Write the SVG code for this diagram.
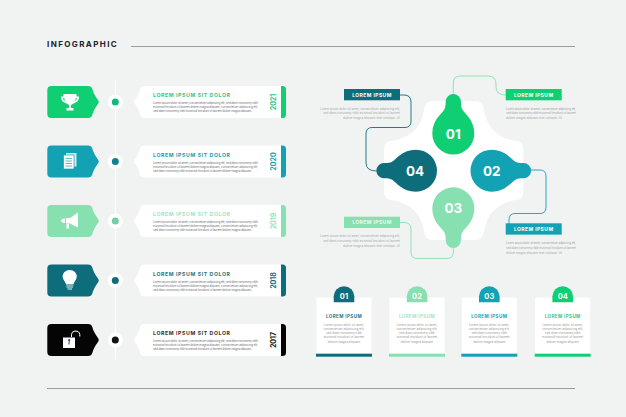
<svg xmlns="http://www.w3.org/2000/svg" width="626" height="417" viewBox="0 0 626 417">
<style>
text{font-family:"Inter","Liberation Sans",sans-serif}
.t{font-size:5.2px;font-weight:700;letter-spacing:.6px}
.b{font-size:3.1px;fill:#777}
.g{font-size:3.1px;fill:#a5a9a9}
.y{font-size:7px;font-weight:700;text-anchor:middle}
.lab{font-size:5px;font-weight:700;letter-spacing:.42px;fill:#fff;text-anchor:middle}
.num{font-size:13.500px;font-weight:700;fill:#fff;text-anchor:middle}
.n2{font-size:7.500px;font-weight:700;fill:#fff;text-anchor:middle}
.ct{font-size:4.500px;font-weight:700;letter-spacing:.42px;text-anchor:middle}
.c{font-size:3.1px;fill:#999;text-anchor:middle}
.r{text-anchor:end}
.cn{fill:none;stroke-width:.9}
.ic{fill:#fff}
</style>
<defs>
<path id="tag" d="M51.500,86H88Q91.500,86 92.300,89Q93.500,94 98.300,100.500Q99.300,102 98.300,103.500Q93.500,110 92.300,115Q91.500,118 88,118H51.500Q47.300,118 47.300,114V90Q47.300,86 51.500,86Z"/>
<path id="card" d="M145,86H281V118H145Q141,118 140,115Q139,109 134.500,103.500Q133.500,102 134.500,100.500Q139,95 140,89Q141,86 145,86Z"/>
<path id="bar" d="M281,86H282.500Q286,86 286,89.500V114.500Q286,118 282.500,118H281Z"/>
<path id="bulb" d="M-7.600,-32A7.600,7.600 0 0 1 7.600,-32C7.600,-28 8,-26 9,-24C11,-20 21,-14 21,0A21,21 0 0 1 -21,0C-21,-14 -11,-20 -9,-24C-8,-26 -7.600,-28 -7.600,-32Z"/>
<path id="tab" d="M0,16V10A10.300,10 0 0 1 20.600,10V16Z"/>
</defs>
<rect width="626" height="417" fill="#f1f3f3"/>
<text x="47" y="47" font-weight="700" letter-spacing="1.400" fill="#222" style="font-size:8px">INFOGRAPHIC</text>
<path d="M131,46.500H575M47,388.500H575" stroke="#9a9d9d" stroke-width="1" fill="none"/>
<path d="M115.300,80V360" stroke="#fff" stroke-width="1"/>

<g id="row-2021">
<use href="#tag" fill="#0fcf72"/>
<path class="ic" d="M63.500,94H76.500V96.500H79V98Q78.500,102 73.500,103.500L71,105V108H73.500V110.500H66.500V108H69V105L66.500,103.500Q61.500,102 61,98V96.500H63.500ZM63,98Q63.500,100.500 65,101L64.200,98ZM77,98L75.800,98L75,101Q76.500,100.500 77,98Z" fill-rule="evenodd"/>
<circle cx="115.300" cy="102" r="7.500" fill="#fff"/><circle cx="115.300" cy="102" r="3.500" fill="#10b981"/>
<use href="#card" fill="#fff"/><use href="#bar" fill="#0fcf72"/>
<text class="t" x="153" y="97" fill="#2fc78a">LOREM IPSUM SIT DOLOR</text>
<text class="b" x="153" y="104.300" textLength="105">Lorem ipsum dolor sit amet, consectetuer adipiscing elit, sed diam nonummy nibh</text>
<text class="b" x="153" y="108.300" textLength="105">euismod tincidunt ut laoreet dolore magna aliquam, consectetuer adipiscing elit,</text>
<text class="b" x="153" y="112.300" textLength="99">sed diam nonummy nibh euismod tincidunt ut laoreet dolore magna aliquam.</text>
<text class="y" transform="translate(275.500,102) rotate(-90)" fill="#1dc987">2021</text>
</g>

<g id="row-2020" transform="translate(0,59.500)">
<use href="#tag" fill="#12a2b3"/>
<rect x="66" y="93.500" width="10.500" height="13.500" class="ic" opacity=".8"/>
<rect x="63.500" y="95.500" width="10.500" height="14" class="ic" stroke="#12a2b3" stroke-width=".7"/>
<path d="M65.500,99H72M65.500,101.500H72M65.500,104H72M65.500,106.500H72" stroke="#12a2b3" stroke-width=".7"/>
<circle cx="115.300" cy="102" r="7.500" fill="#fff"/><circle cx="115.300" cy="102" r="3.500" fill="#0f8295"/>
<use href="#card" fill="#fff"/><use href="#bar" fill="#12a2b3"/>
<text class="t" x="153" y="97" fill="#12a2b3">LOREM IPSUM SIT DOLOR</text>
<text class="b" x="153" y="104.300" textLength="105">Lorem ipsum dolor sit amet, consectetuer adipiscing elit, sed diam nonummy nibh</text>
<text class="b" x="153" y="108.300" textLength="105">euismod tincidunt ut laoreet dolore magna aliquam, consectetuer adipiscing elit,</text>
<text class="b" x="153" y="112.300" textLength="99">sed diam nonummy nibh euismod tincidunt ut laoreet dolore magna aliquam.</text>
<text class="y" transform="translate(275.500,102) rotate(-90)" fill="#12a2b3">2020</text>
</g>

<g id="row-2019" transform="translate(0,119)">
<use href="#tag" fill="#86e0b0"/>
<path class="ic" d="M78,93.500V108.500L70,104.500H66V99H70ZM65,99.500V104Q61,103.500 61,101.750Q61,100 65,99.500ZM66.500,105H69V109.500H66.500Z"/>
<circle cx="115.300" cy="102" r="7.500" fill="#fff"/><circle cx="115.300" cy="102" r="3.500" fill="#72cfa5"/>
<use href="#card" fill="#fff"/><use href="#bar" fill="#86e0b0"/>
<text class="t" x="153" y="97" fill="#a3e3c4">LOREM IPSUM SIT DOLOR</text>
<text class="b" x="153" y="104.300" textLength="105">Lorem ipsum dolor sit amet, consectetuer adipiscing elit, sed diam nonummy nibh</text>
<text class="b" x="153" y="108.300" textLength="105">euismod tincidunt ut laoreet dolore magna aliquam, consectetuer adipiscing elit,</text>
<text class="b" x="153" y="112.300" textLength="99">sed diam nonummy nibh euismod tincidunt ut laoreet dolore magna aliquam.</text>
<text class="y" transform="translate(275.500,102) rotate(-90)" fill="#9ae3bf">2019</text>
</g>

<g id="row-2018" transform="translate(0,178.500)">
<use href="#tag" fill="#0e6d7b"/>
<path class="ic" d="M69.700,91.500C74,91.500 76.800,94.500 76.800,98C76.800,101 74.500,102.500 73.500,105.500H66C65,102.500 62.600,101 62.600,98C62.600,94.500 65.500,91.500 69.700,91.500Z"/>
<path d="M66,106.500H73.500M66.500,108.500H73M67.500,110.500H72M67,105V101M72.500,105V101" stroke="#fff" stroke-width=".9" fill="none"/>
<circle cx="115.300" cy="102" r="7.500" fill="#fff"/><circle cx="115.300" cy="102" r="3.500" fill="#0e6d7b"/>
<use href="#card" fill="#fff"/><use href="#bar" fill="#0e6d7b"/>
<text class="t" x="153" y="97" fill="#2a7583">LOREM IPSUM SIT DOLOR</text>
<text class="b" x="153" y="104.300" textLength="105">Lorem ipsum dolor sit amet, consectetuer adipiscing elit, sed diam nonummy nibh</text>
<text class="b" x="153" y="108.300" textLength="105">euismod tincidunt ut laoreet dolore magna aliquam, consectetuer adipiscing elit,</text>
<text class="b" x="153" y="112.300" textLength="99">sed diam nonummy nibh euismod tincidunt ut laoreet dolore magna aliquam.</text>
<text class="y" transform="translate(275.500,102) rotate(-90)" fill="#0e6d7b">2018</text>
</g>

<g id="row-2017" transform="translate(0,238)">
<use href="#tag" fill="#050505"/>
<rect x="63" y="99.500" width="12" height="10.500" class="ic"/>
<path d="M71.500,99V96.500Q71.500,93.500 75,93Q79.500,93 79.800,96.500V98.500" fill="none" stroke="#fff" stroke-width="1"/>
<path d="M68.800,103A1,1 0 1 1 69.500,103V106.500H68.500Z" fill="#1b1b7a"/>
<circle cx="115.300" cy="102" r="7.500" fill="#fff"/><circle cx="115.300" cy="102" r="3.500" fill="#111"/>
<use href="#card" fill="#fff"/><use href="#bar" fill="#050505"/>
<text class="t" x="153" y="97" fill="#333">LOREM IPSUM SIT DOLOR</text>
<text class="b" x="153" y="104.300" textLength="105">Lorem ipsum dolor sit amet, consectetuer adipiscing elit, sed diam nonummy nibh</text>
<text class="b" x="153" y="108.300" textLength="105">euismod tincidunt ut laoreet dolore magna aliquam, consectetuer adipiscing elit,</text>
<text class="b" x="153" y="112.300" textLength="99">sed diam nonummy nibh euismod tincidunt ut laoreet dolore magna aliquam.</text>
<text class="y" transform="translate(275.500,102) rotate(-90)" fill="#111">2017</text>
</g>

<path id="plus" fill="#fff" d="M433,101H475Q483,101 484,110Q488,136 515,141Q523.300,141 523.300,150V191Q523.300,200 515,200Q488,205 484,231Q483,240 475,240H433Q425,240 424,231Q420,205 392,200Q384,200 384,191V150Q384,141 392,141Q420,136 424,110Q425,101 433,101Z"/>

<g id="connectors">
<path class="cn" stroke="#86e0b0" d="M453.300,94V83Q453.300,76 460,76H488Q496,76 496,84V87Q496,95 506,95"/>
<path class="cn" stroke="#0e6d7b" d="M400,95H404Q411,95 411,102V121Q411,127.500 405,127.500H372Q366,127.500 366,134V163Q366,171 377,171"/>
<path class="cn" stroke="#12a2b3" d="M530,170H540Q546,170 546,176V207Q546,213.500 540,213.500H515Q509,213.500 509,220V224"/>
<path class="cn" stroke="#86e0b0" d="M400,222.500H404Q411,222.500 411,229V252Q411,258.500 417,258.500H447Q453.300,258.500 453.300,252V247"/>
</g>

<g id="bulb-01"><use href="#bulb" transform="translate(453.300,133.500)" fill="#0fcf72"/><text class="num" x="453.300" y="138.500">01</text></g>
<g id="bulb-02"><use href="#bulb" transform="translate(491.500,170.700) rotate(90)" fill="#12a2b3"/><text class="num" x="491.700" y="175.700">02</text></g>
<g id="bulb-03"><use href="#bulb" transform="translate(453.300,208.300) rotate(180)" fill="#86e0b0"/><text class="num" x="453.300" y="213.300">03</text></g>
<g id="bulb-04"><use href="#bulb" transform="translate(416,170.700) rotate(-90)" fill="#0e6d7b"/><text class="num" x="415" y="175.700">04</text></g>

<g id="label-01"><rect x="505.700" y="89" width="56" height="11.300" fill="#0fcf72"/><text class="lab" x="533.700" y="96.500">LOREM IPSUM</text>
<text class="g" x="506" y="109.500" textLength="70">Lorem ipsum dolor sit amet, consectetuer adipiscing elit,</text><text class="g" x="506" y="114.300" textLength="70">sed diam nonummy nibh euismod tincidunt ut laoreet</text><text class="g" x="506" y="119" textLength="56">dolore magna aliquam erat volutpat. Ut</text></g>
<g id="label-02"><rect x="505.700" y="223.300" width="56" height="11.300" fill="#12a2b3"/><text class="lab" x="533.700" y="230.800">LOREM IPSUM</text>
<text class="g" x="506" y="244" textLength="70">Lorem ipsum dolor sit amet, consectetuer adipiscing elit,</text><text class="g" x="506" y="248.800" textLength="70">sed diam nonummy nibh euismod tincidunt ut laoreet</text><text class="g" x="506" y="253.500" textLength="56">dolore magna aliquam erat volutpat. Ut</text></g>
<g id="label-03"><rect x="344" y="216.700" width="56" height="11.300" fill="#86e0b0"/><text class="lab" x="372" y="224.200" style="fill:#eafaf2">LOREM IPSUM</text>
<text class="g r" x="400" y="237" textLength="80">Lorem ipsum dolor sit amet, consectetuer adipiscing elit,</text><text class="g r" x="400" y="241.800" textLength="77">sed diam nonummy nibh euismod tincidunt ut laoreet</text><text class="g r" x="400" y="246.500" textLength="57">dolore magna aliquam erat volutpat. Ut</text></g>
<g id="label-04"><rect x="344" y="89" width="56" height="11.300" fill="#0e6d7b"/><text class="lab" x="372" y="96.500">LOREM IPSUM</text>
<text class="g r" x="400" y="109.500" textLength="80">Lorem ipsum dolor sit amet, consectetuer adipiscing elit,</text><text class="g r" x="400" y="114.300" textLength="77">sed diam nonummy nibh euismod tincidunt ut laoreet</text><text class="g r" x="400" y="119" textLength="57">dolore magna aliquam erat volutpat. Ut</text></g>

<g id="card-01"><rect x="316.500" y="297.700" width="55" height="56" fill="#fff"/><rect x="316" y="353.700" width="56" height="3" fill="#0e6d7b"/><use href="#tab" x="333.700" y="286.300" fill="#0e6d7b"/><text class="n2" x="344" y="298.800">01</text><text class="ct" x="344" y="318" fill="#2a7583">LOREM IPSUM</text>
<text class="c" x="344" y="325.500">Lorem ipsum dolor sit amet,</text><text class="c" x="344" y="329.800">consectetuer adipiscing elit,</text><text class="c" x="344" y="334">sed diam nonummy nibh</text><text class="c" x="344" y="338.200">euismod tincidunt ut laoreet</text><text class="c" x="344" y="342.500">dolore magna aliquam</text></g>
<g id="card-02"><rect x="389.500" y="297.700" width="55" height="56" fill="#fff"/><rect x="389" y="353.700" width="56" height="3" fill="#86e0b0"/><use href="#tab" x="406.800" y="286.300" fill="#86e0b0"/><text class="n2" x="417" y="298.800">02</text><text class="ct" x="417" y="318" fill="#a3e3c4">LOREM IPSUM</text>
<text class="c" x="417" y="325.500">Lorem ipsum dolor sit amet,</text><text class="c" x="417" y="329.800">consectetuer adipiscing elit,</text><text class="c" x="417" y="334">sed diam nonummy nibh</text><text class="c" x="417" y="338.200">euismod tincidunt ut laoreet</text><text class="c" x="417" y="342.500">dolore magna aliquam</text></g>
<g id="card-03"><rect x="461.800" y="297.700" width="55" height="56" fill="#fff"/><rect x="461.300" y="353.700" width="56" height="3" fill="#12a2b3"/><use href="#tab" x="479" y="286.300" fill="#12a2b3"/><text class="n2" x="489.300" y="298.800">03</text><text class="ct" x="489.300" y="318" fill="#12a2b3">LOREM IPSUM</text>
<text class="c" x="489.300" y="325.500">Lorem ipsum dolor sit amet,</text><text class="c" x="489.300" y="329.800">consectetuer adipiscing elit,</text><text class="c" x="489.300" y="334">sed diam nonummy nibh</text><text class="c" x="489.300" y="338.200">euismod tincidunt ut laoreet</text><text class="c" x="489.300" y="342.500">dolore magna aliquam</text></g>
<g id="card-04"><rect x="535.200" y="297.700" width="55" height="56" fill="#fff"/><rect x="534.700" y="353.700" width="56" height="3" fill="#0fcf72"/><use href="#tab" x="552.400" y="286.300" fill="#0fcf72"/><text class="n2" x="562.700" y="298.800">04</text><text class="ct" x="562.700" y="318" fill="#2fc78a">LOREM IPSUM</text>
<text class="c" x="562.700" y="325.500">Lorem ipsum dolor sit amet,</text><text class="c" x="562.700" y="329.800">consectetuer adipiscing elit,</text><text class="c" x="562.700" y="334">sed diam nonummy nibh</text><text class="c" x="562.700" y="338.200">euismod tincidunt ut laoreet</text><text class="c" x="562.700" y="342.500">dolore magna aliquam</text></g>
</svg>
